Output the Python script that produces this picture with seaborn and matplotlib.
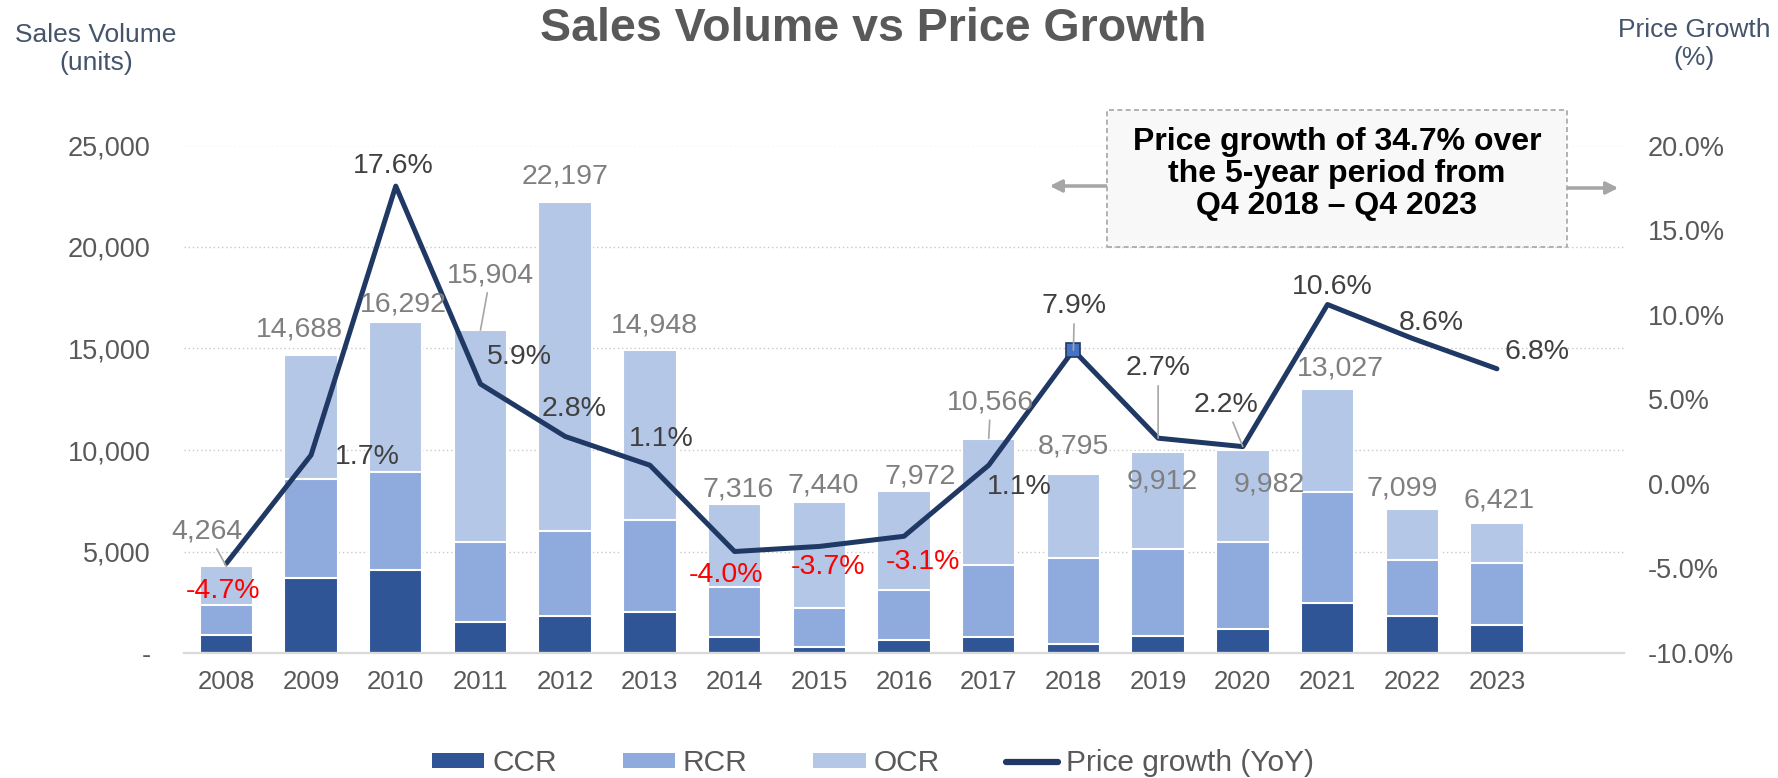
import seaborn as sns
import matplotlib.pyplot as plt
import numpy as np
import pandas as pd
from matplotlib.patches import Patch, Rectangle
from matplotlib.lines import Line2D
from matplotlib.ticker import FuncFormatter, MultipleLocator

# data
years = ['2008', '2009', '2010', '2011', '2012', '2013', '2014', '2015',
         '2016', '2017', '2018', '2019', '2020', '2021', '2022', '2023']
ccr = [880, 3680, 4080, 1520, 1830, 2000, 790, 310, 630, 810, 450, 860, 1180, 2440, 1830, 1400]
rcr = [1500, 4900, 4830, 3960, 4190, 4530, 2460, 1920, 2490, 3530, 4220, 4270, 4270, 5480, 2740, 3020]
ocr = [1884, 6108, 7382, 10424, 16177, 8418, 4066, 5210, 4852, 6226, 4125, 4782, 4532, 5107, 2529, 2001]
totals = [4264, 14688, 16292, 15904, 22197, 14948, 7316, 7440, 7972, 10566, 8795, 9912, 9982, 13027, 7099, 6421]
growth = [-4.7, 1.7, 17.6, 5.9, 2.8, 1.1, -4.0, -3.7, -3.1, 1.1, 7.9, 2.7, 2.2, 10.6, 8.6, 6.8]
highlight_year = '2018'

# label placement (pixel offsets from the anchor point), style only
vol_offsets = [(-19, 35), (-12, 25), (8, 18), (10, 55), (0, 26), (5, 24), (4, 15), (4, 16),
               (16, 15), (2, 36), (0, 28), (4, -30), (26, -34), (13, 20), (-10, 20), (2, 22)]
vol_leaders = {'2008', '2011', '2017'}
pct_offsets = [(-3, -28), (56, -2), (-3, 20), (39, 27), (9, 27), (11, 26), (-9, -23), (9, -21),
               (19, -26), (31, -22), (1, 44), (0, 70), (-17, 42), (5, 18), (19, 15), (40, 17)]
pct_leaders = {'2018', '2019', '2020'}

C_CCR, C_RCR, C_OCR = '#2F5597', '#8FAADC', '#B4C7E7'
C_LINE = '#1F3864'
GREY = '#595959'

sns.set_style('white')
plt.rcParams['font.family'] = ['Liberation Sans', 'DejaVu Sans']

W, H = 1778, 778
fig = plt.figure(figsize=(W / 100, H / 100), dpi=100)


def fpos(x, y):
    return x / W, 1 - y / H


ax = fig.add_axes([184 / W, (H - 653) / H, 1440 / W, (653 - 145.5) / H])

df = pd.DataFrame({'year': years, 'CCR': ccr, 'RCR': rcr, 'OCR': ocr})
df['upto_rcr'] = df['CCR'] + df['RCR']
df['upto_ocr'] = df['upto_rcr'] + df['OCR']

bar_kw = dict(x='year', width=0.63, saturation=1, errorbar=None,
              edgecolor='white', linewidth=1.5, ax=ax)
sns.barplot(data=df, y='upto_ocr', color=C_OCR, **bar_kw)
sns.barplot(data=df, y='upto_rcr', color=C_RCR, **bar_kw)
sns.barplot(data=df, y='CCR', color=C_CCR, **bar_kw)

ax2 = ax.twinx()
xs = np.arange(len(years))
sns.lineplot(x=xs, y=growth, color=C_LINE, linewidth=3.6, ax=ax2)
hi = years.index(highlight_year)
ax2.plot([xs[hi]], [growth[hi]], marker='s', ms=10, mfc='#4472C4', mec=C_LINE, mew=1.2, zorder=5)

# axes formatting
ax.set_ylim(0, 25000)
ax.yaxis.set_major_locator(MultipleLocator(5000))
ax.yaxis.set_major_formatter(FuncFormatter(lambda v, p: '-' if v == 0 else f'{int(v):,}'))
ax2.set_ylim(-10, 20)
ax2.yaxis.set_major_locator(MultipleLocator(5))
ax2.yaxis.set_major_formatter(FuncFormatter(lambda v, p: f'{v:.1f}%'))
ax.set_xlim(-0.5, 16.5)

for a in (ax, ax2):
    a.set_xlabel('')
    a.set_ylabel('')
    for s in a.spines.values():
        s.set_visible(False)
ax.spines['bottom'].set_visible(True)
ax.spines['bottom'].set_color('#D9D9D9')
ax.spines['bottom'].set_linewidth(1.6)
ax.yaxis.grid(True, linestyle=(0, (1, 2)), color='#C8C8C8', linewidth=1)
ax.set_axisbelow(True)

ax.tick_params(axis='y', length=0, labelsize=19.5, labelcolor=GREY, pad=24)
ax.tick_params(axis='x', length=0, labelsize=18.5, labelcolor=GREY, pad=12)
ax2.tick_params(axis='y', length=0, labelsize=19.5, labelcolor=GREY, pad=17)

# data labels
for i, yr in enumerate(years):
    dx, dy = vol_offsets[i]
    kw = {}
    if yr in vol_leaders:
        kw['arrowprops'] = dict(arrowstyle='-', color='#A6A6A6', lw=1.2, shrinkA=1, shrinkB=0)
    ax2.annotate(f'{totals[i]:,}', xy=(i, totals[i]), xycoords=ax.transData,
                 xytext=(dx, dy), textcoords='offset pixels', ha='center', va='center',
                 fontsize=20.5, color='#7F7F7F', **kw)
for i, yr in enumerate(years):
    dx, dy = pct_offsets[i]
    kw = {}
    if yr in pct_leaders:
        kw['arrowprops'] = dict(arrowstyle='-', color='#A6A6A6', lw=1.2, shrinkA=1, shrinkB=0)
    col = '#FF0000' if growth[i] < 0 else '#404040'
    ax2.annotate(f'{growth[i]:.1f}%', xy=(i, growth[i]), xytext=(dx, dy),
                 textcoords='offset pixels', ha='center', va='center',
                 fontsize=20.5, color=col, zorder=6, **kw)

# titles
fig.text(*fpos(873, 29), 'Sales Volume vs Price Growth', ha='center', va='center',
         fontsize=33.5, fontweight='bold', color=GREY)
fig.text(*fpos(96, 49), 'Sales Volume\n(units)', ha='center', va='center',
         fontsize=19, color='#44546A', linespacing=1.25)
fig.text(*fpos(1694, 44), 'Price Growth\n(%)', ha='center', va='center',
         fontsize=19, color='#44546A', linespacing=1.25)

# call-out box with arrows
bx0, by0 = fpos(1106.6, 247)
bx1, by1 = fpos(1567, 109.5)
fig.patches.append(Rectangle((bx0, by0), bx1 - bx0, by1 - by0, transform=fig.transFigure,
                             facecolor='#F8F8F8', edgecolor='#A6A6A6', linewidth=1.2,
                             linestyle=(0, (3, 2)), zorder=3))
fig.text(*fpos(1337, 174), 'Price growth of 34.7% over\nthe 5-year period from\nQ4 2018 \u2013 Q4 2023',
         ha='center', va='center', fontsize=23, fontweight='bold', color='black',
         linespacing=1.1, zorder=4)
arrow = dict(arrowstyle='-|>', color='#A6A6A6', lw=2.2, mutation_scale=18, shrinkA=0, shrinkB=0)
fig.add_artist(plt.annotate('', xy=fpos(1050, 186), xytext=fpos(1106, 186),
                            xycoords='figure fraction', textcoords='figure fraction',
                            arrowprops=arrow))
fig.add_artist(plt.annotate('', xy=fpos(1618, 188), xytext=fpos(1567, 188),
                            xycoords='figure fraction', textcoords='figure fraction',
                            arrowprops=arrow))

# legend
handles = [Patch(facecolor=C_CCR, edgecolor='none'),
           Patch(facecolor=C_RCR, edgecolor='none'),
           Patch(facecolor=C_OCR, edgecolor='none'),
           Line2D([], [], color=C_LINE, linewidth=4.5)]
labels = ['CCR', 'RCR', 'OCR', 'Price growth (YoY)']
fig.legend(handles, labels, loc='center', bbox_to_anchor=fpos(873, 763), ncol=4,
           frameon=False, fontsize=21.5, labelcolor=GREY, handlelength=1.75,
           handleheight=0.42, handletextpad=0.27, columnspacing=2.2, borderpad=0)

fig.savefig('out.png', dpi=100)
